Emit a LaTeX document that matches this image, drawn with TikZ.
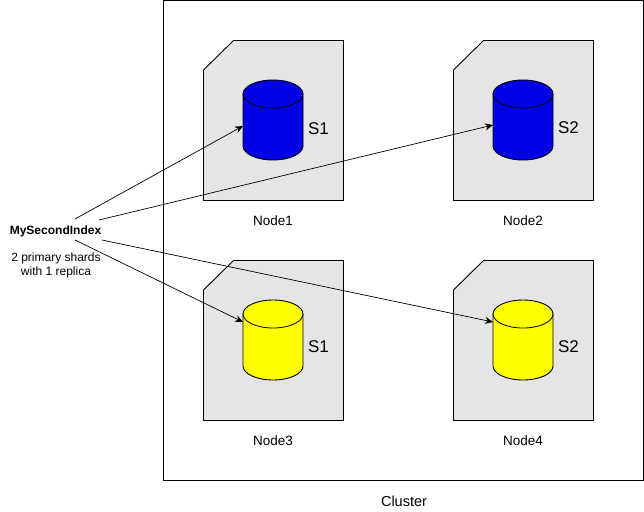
\documentclass[tikz,border=0pt]{standalone}
\usepackage{fontspec}
\setmainfont{Liberation Sans}
\usetikzlibrary{arrows.meta}
\definecolor{shardblue}{RGB}{0,0,228}
\definecolor{shardyellow}{RGB}{255,255,0}
\tikzset{
    x=1pt,y=-1pt,
    cluster/.style={draw,line width=1pt},
    card/.style={draw,line width=0.9pt,fill=black!10},
    caption/.style={font=\fontsize{13.5}{15}\selectfont,inner sep=0pt},
    shardlabel/.style={font=\fontsize{17}{19}\selectfont,inner sep=0pt},
    indexlabel/.style={font=\fontsize{12}{14}\selectfont,inner sep=0pt,align=center},
    link/.style={line width=0.7pt,-{Stealth[length=8pt,width=7pt]}},
    shard/.pic={
        \draw[line width=0.9pt,fill=#1] (0,14) -- (0,66) .. controls (0,73.7) and (13.4,80) .. (30,80)
            .. controls (46.6,80) and (60,73.7) .. (60,66) -- (60,14)
            .. controls (60,6.3) and (46.6,0) .. (30,0) .. controls (13.4,0) and (0,6.3) .. (0,14) -- cycle;
        \draw[line width=0.8pt] (0,14) .. controls (0,21.7) and (13.4,28) .. (30,28)
            .. controls (46.6,28) and (60,21.7) .. (60,14);
    }
}
\begin{document}
\begin{tikzpicture}
    \useasboundingbox (0,0) rectangle (644,511);
    %% cluster
    \draw[cluster] (163.5,0.5) rectangle (643.5,480.5);
    \node[caption,font=\fontsize{14.5}{16}\selectfont] (clusterlabel) at (404,501) {Cluster};
    %% cards with one shard each
    \foreach \n/\x/\y/\c/\s/\sy in {1/203/40/shardblue/S1/129,2/453/40/shardblue/S2/128,3/203/260/shardyellow/S1/347,4/453/260/shardyellow/S2/347} {
        \draw[card] (\x+0.5,\y+30) -- (\x+30.5,\y+0.5) -- (\x+140.5,\y+0.5) -- (\x+140.5,\y+160.5) -- (\x+0.5,\y+160.5) -- cycle;
        \pic at (\x+40,\y+40) {shard=\c};
        \node[shardlabel] (label\n) at (\x+115.5,\sy) {\s};
        \node[caption] (node\n) at (\x+70,\y+181) {Node\n};
        \coordinate (shard\n) at (\x+40,\y+\ifnum\y=40 86\else 62\fi);
    }
    %% index
    \node[indexlabel,font=\fontsize{12}{14}\selectfont\bfseries] (index) at (55.5,231) {MySecondIndex};
    \node[indexlabel] (indexinfo) at (56,265) {2 primary shards\\with 1 replica};
    \coordinate (out1) at (75,219);
    \coordinate (out2) at (99,220);
    \coordinate (out3) at (75,240);
    \coordinate (out4) at (102,240);
    %% links
    \draw[link] (out1) -- (shard1);
    \draw[link] (out2) -- ([yshift=1pt]shard2);
    \draw[link] (out3) -- (shard3);
    \draw[link] (out4) -- (shard4);
\end{tikzpicture}
\end{document}
